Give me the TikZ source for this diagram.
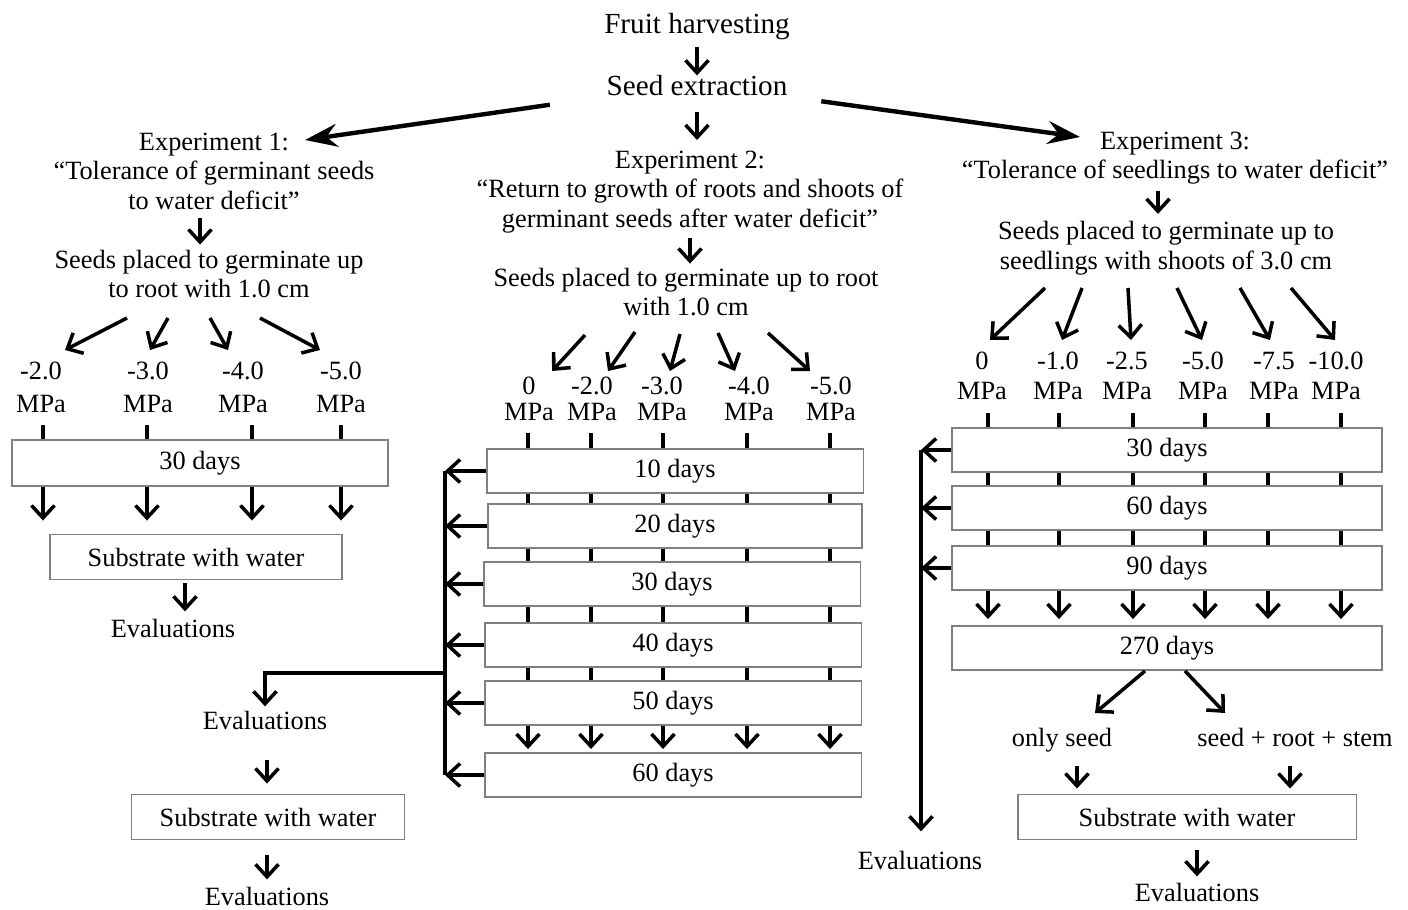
\documentclass[tikz,border=0pt]{standalone}
\usepackage{fontspec}
\setmainfont{Liberation Serif}
\usetikzlibrary{arrows.meta}
\definecolor{boxgray}{gray}{0.5}

\begin{document}
\begin{tikzpicture}[x=0.02cm,y=-0.02cm,
  every node/.style={inner sep=0pt, font=\fontsize{15}{16.8}\selectfont},
  txt/.style={align=center},
  bigtxt/.style={font=\fontsize{16.6}{18}\selectfont},
  mpa/.style={align=center, font=\fontsize{15}{#1}\selectfont},
  daybox/.style={draw=boxgray, line width=1.1pt, minimum height=0.88cm},
  arr/.style={line width=2pt, -{Straight Barb[length=2.5mm,width=4.6mm]}},
  bigarr/.style={line width=2.5pt, -{Stealth[length=6.5mm,width=4.6mm,inset=2.2mm]}},
  tick/.style={line width=2pt}]
  \useasboundingbox (0,0) rectangle (1408,909);

  % common start
  \node[bigtxt] (fruit) at (697,27) {Fruit harvesting};
  \node[bigtxt] (seed) at (697,86) {Seed extraction};
  \draw[arr, shorten <=0.12cm] (fruit.south) -- (seed.north);
  \draw[arr, shorten <=0.3cm, shorten >=0.2cm] (seed.south) -- (seed.south |- 0,150);
  \coordinate (e1in) at (305,140);
  \coordinate (e3in) at (1080,137);
  \draw[bigarr, shorten <=1.14cm] (seed.south west) -- (e1in);
  \draw[bigarr, shorten <=0.68cm] (seed.south east) -- (e3in);

  % experiment 1
  \node[txt] (ex1) at (214,171) {Experiment 1:\\“Tolerance of germinant seeds\\to water deficit”};
  \node[txt] (pl1) at (209,274) {Seeds placed to germinate up\\to root with 1.0 cm};
  \draw[arr, shorten <=0.16cm, shorten >=0.1cm] (ex1.south -| 200,0) -- (pl1.north -| 200,0);
  \foreach \a/\b in {127/65, 168/150, 210/228, 260/320}
    \draw[arr] (\a,318) -- (\b,350);
  \node[mpa=18.7] (p1a) at (41,387) {-2.0\\MPa};
  \node[mpa=18.7] (p1b) at (148,387) {-3.0\\MPa};
  \node[mpa=18.7] (p1c) at (243,387) {-4.0\\MPa};
  \node[mpa=18.7] (p1d) at (341,387) {-5.0\\MPa};
  \node[daybox, minimum width=7.52cm, minimum height=0.92cm] (d1) at (200,463) {30 days};
  \node[daybox, minimum width=5.84cm, minimum height=0.9cm] (s1) at (196,557) {Substrate with water};
  \node (ev1) at (173,628) {Evaluations};
  \foreach \x in {43,147,252,341} {
    \draw[tick] (\x,425) -- (d1.north -| \x,0);
    \draw[arr, shorten >=0.26cm] (d1.south -| \x,0) -- (s1.north -| \x,0);
  }
  \draw[arr, shorten <=0.06cm, shorten >=0.14cm] (s1.south -| 185,0) -- (ev1.north -| 185,0);

  % experiment 2
  \node[txt] (ex2) at (690,192) {Experiment 2:\\“Return to growth of roots and shoots of\\germinant seeds after water deficit”};
  \node[txt] (pl2) at (686,292) {Seeds placed to germinate up to root\\with 1.0 cm};
  \draw[arr, shorten <=0.1cm, shorten >=0.08cm] (ex2.south -| 690,0) -- (pl2.north -| 690,0);
  \foreach \a/\b/\c in {585/335/552, 635/332/608, 680/334/670, 718/333/735, 768/333/810}
    \draw[arr] (\a,\b) -- (\c,371);
  \node[mpa=14.7] (p2a) at (529,399) {0\\MPa};
  \node[mpa=14.7] (p2b) at (592,399) {-2.0\\MPa};
  \node[mpa=14.7] (p2c) at (662,399) {-3.0\\MPa};
  \node[mpa=14.7] (p2d) at (749,399) {-4.0\\MPa};
  \node[mpa=14.7] (p2e) at (831,399) {-5.0\\MPa};
  \node[daybox, minimum width=7.54cm] (b10) at (675,471) {10 days};
  \node[daybox, minimum width=7.48cm] (b20) at (675,526) {20 days};
  \node[daybox, minimum width=7.54cm] (b30) at (672,584) {30 days};
  \node[daybox, minimum width=7.54cm] (b40) at (673,645) {40 days};
  \node[daybox, minimum width=7.54cm] (b50) at (673,703) {50 days};
  \node[daybox, minimum width=7.54cm] (b60) at (673,775) {60 days};
  \foreach \x in {528,591,663,747,830} {
    \draw[tick] (\x,433) -- (b10.north -| \x,0);
    \foreach \u/\v in {b10/b20, b20/b30, b30/b40, b40/b50}
      \draw[tick] (\u.south -| \x,0) -- (\v.north -| \x,0);
    \draw[arr, shorten >=0.06cm] (b50.south -| \x,0) -- (b60.north -| \x,0);
  }
  \coordinate (fb2) at (445,0);
  \draw[tick] (b10.west -| fb2) -- (b60.west -| fb2);
  \foreach \b in {b10,b20,b30,b40,b50,b60}
    \draw[arr] (\b.west) -- (\b.west -| fb2);
  \coordinate (j2) at (445,673);
  \node (ev2a) at (265,720) {Evaluations};
  \node[daybox, minimum width=5.46cm, minimum height=0.9cm] (s2) at (268,817) {Substrate with water};
  \node (ev2b) at (267,896) {Evaluations};
  \draw[arr, shorten >=0.08cm] (j2) -| (ev2a.north);
  \draw[arr, shorten <=0.6cm, shorten >=0.2cm] (ev2a.south -| 267,0) -- (s2.north -| 267,0);
  \draw[arr, shorten <=0.3cm, shorten >=0.14cm] (s2.south -| 267,0) -- (ev2b.north -| 267,0);

  % experiment 3
  \node[txt] (ex3) at (1175,158) {Experiment 3:\\“Tolerance of seedlings to water deficit”};
  \node[txt] (pl3) at (1166,248) {Seeds placed to germinate up to\\seedlings with shoots of 3.0 cm};
  \draw[arr, shorten <=0.12cm, shorten >=0.14cm] (ex3.south -| 1158,0) -- (pl3.north -| 1158,0);
  \foreach \a/\b in {1045/990, 1082/1062, 1128/1131, 1177/1202, 1240/1270, 1291/1335}
    \draw[arr] (\a,288) -- (\b,340);
  \node[mpa=17] (p3a) at (982,376) {0\\MPa};
  \node[mpa=17] (p3b) at (1058,376) {-1.0\\MPa};
  \node[mpa=17] (p3c) at (1127,376) {-2.5\\MPa};
  \node[mpa=17] (p3d) at (1203,376) {-5.0\\MPa};
  \node[mpa=17] (p3e) at (1274,376) {-7.5\\MPa};
  \node[mpa=17] (p3f) at (1336,376) {-10.0\\MPa};
  \node[daybox, minimum width=8.6cm] (c30) at (1167,450) {30 days};
  \node[daybox, minimum width=8.6cm] (c60) at (1167,508) {60 days};
  \node[daybox, minimum width=8.6cm] (c90) at (1167,568) {90 days};
  \node[daybox, minimum width=8.6cm] (c270) at (1167,648) {270 days};
  \foreach \x in {988,1059,1133,1205,1268,1341} {
    \draw[tick] (\x,413) -- (c30.north -| \x,0);
    \foreach \u/\v in {c30/c60, c60/c90}
      \draw[tick] (\u.south -| \x,0) -- (\v.north -| \x,0);
    \draw[arr, shorten >=0.12cm] (c90.south -| \x,0) -- (c270.north -| \x,0);
  }
  \coordinate (fb3) at (921,0);
  \node (ev3a) at (920,860) {Evaluations};
  \draw[arr, shorten >=0.38cm] (c30.west -| fb3) -- (ev3a.north -| fb3);
  \foreach \b in {c30,c60,c90}
    \draw[arr] (\b.west) -- (\b.west -| fb3);
  \node[anchor=base] (os) at (1062,746) {only seed};
  \node[anchor=base] (srs) at (1295,746) {seed + root + stem};
  \draw[arr] (c270.south -| 1145,0) -- (1095,713);
  \draw[arr] (c270.south -| 1185,0) -- (1225,713);
  \node[daybox, minimum width=6.78cm, minimum height=0.9cm] (s3) at (1187,817) {Substrate with water};
  \node (ev3b) at (1197,892) {Evaluations};
  \draw[arr, shorten <=0.28cm, shorten >=0.1cm] (os.south -| 1077,0) -- (s3.north -| 1077,0);
  \draw[arr, shorten <=0.38cm, shorten >=0.1cm] (srs.south -| 1290,0) -- (s3.north -| 1290,0);
  \draw[arr, shorten <=0.2cm, shorten >=0.12cm] (s3.south -| 1197,0) -- (ev3b.north -| 1197,0);
\end{tikzpicture}
\end{document}
